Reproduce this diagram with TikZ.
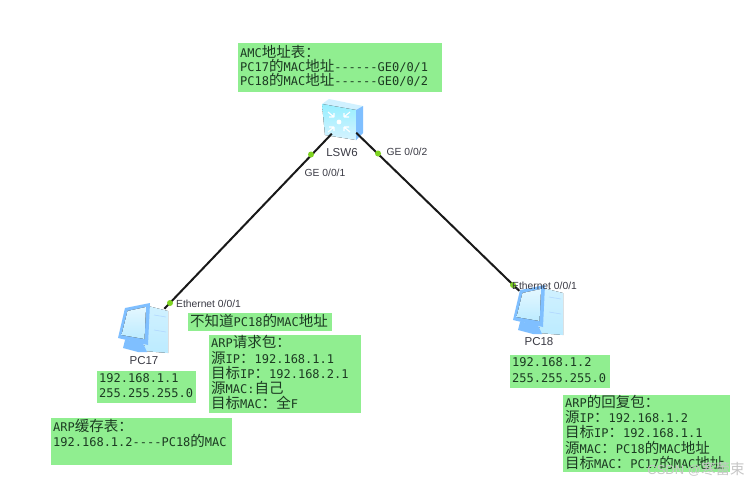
\documentclass[tikz,border=0pt]{standalone}
\usepackage{fontspec}
\setmainfont{Liberation Sans}
\setmonofont{DejaVu Sans Mono}
\newfontfamily\cjkfont{Noto Sans CJK SC}
\newcommand{\cn}[1]{{\cjkfont\fontsize{14.5}{15}\selectfont #1}}
\usepackage{tikz}
\usetikzlibrary{positioning}
\definecolor{notegreen}{HTML}{90EE90}
\definecolor{notetext}{HTML}{1C3A22}
\definecolor{portgreen}{HTML}{7ED321}
\definecolor{labelgray}{HTML}{3A3A44}
\definecolor{iconblue}{HTML}{7FBFFF}
\definecolor{iconpale}{HTML}{BCEBFF}

\begin{document}
\begin{tikzpicture}[
  x=1pt,y=-1pt,
  note/.style={fill=notegreen,anchor=north west,align=left,inner xsep=2pt,inner ysep=0pt,
    text=notetext,font=\ttfamily\fontsize{12}{15.2}\selectfont,
    execute at end node={\endgraf\vspace{3pt}}},
  link/.style={draw=black!90,line width=2pt},
  port/.style={circle,fill=portgreen,inner sep=0pt,minimum size=6pt},
  portlabel/.style={text=labelgray,inner sep=0pt,font=\fontsize{10.3}{12}\selectfont},
  devname/.style={portlabel,font=\fontsize{11.5}{13}\selectfont},
  device/.style={inner sep=0pt,minimum width=50pt,minimum height=36pt},
  pics/switchicon/.style={code={
    \fill[iconpale!70!white] (0,5) -- (7,0) -- (41,7) -- (34,11) -- cycle;
    \fill[top color=iconpale!80!cyan,bottom color=iconpale!60!white] (0,5) -- (34,11) -- (34,41) -- (3,36) -- cycle;
    \fill[iconblue] (34,11) -- (41,7) -- (41,34) -- (34,41) -- cycle;
    \fill[white] (17,23) circle (2.4);
    \foreach \dx/\dy in {-1/-1,1/-1,-1/1,1/1}
      \draw[white,line width=1.1pt] (17+5*\dx,23+5*\dy) -- (17+11*\dx,23+10*\dy)
        (17+5*\dx,23+5*\dy) -- (17+5*\dx,23+9*\dy) (17+5*\dx,23+5*\dy) -- (17+10*\dx,23+5*\dy);
  }},
  pics/pcicon/.style={code={
    \fill[top color=iconpale!70!white,bottom color=iconpale] (30,3) -- (50,8) -- (50,50) -- (26,48) -- cycle;
    \draw[iconblue!60,line width=.6pt] (36,12) -- (48,14) (36,27) -- (48,29);
    \fill[iconblue] (7,37) -- (24,38) -- (29,49) -- (20,49) -- (5,45) -- cycle;
    \fill[iconblue] (0,35) -- (7,5) -- (32,0) -- (30,42) -- cycle;
    \fill[top color=iconpale!40!white,bottom color=iconpale] (3.5,32) -- (9.5,8) -- (28,4) -- (26.5,36) -- cycle;
  }}
]
\useasboundingbox[fill=white] (0,0) rectangle (752,483);

\pic at (322,99) {switchicon};
\pic at (118,303) {pcicon};
\pic at (513,285) {pcicon};

\node[device,minimum width=24pt,minimum height=30pt] (LSW6) at (344,121) {};
\node[device,minimum height=38pt] (PC17) at (146,328) {};
\node[device] (PC18) at (538,309) {};
\draw[link] (LSW6) -- (PC17);
\draw[link] (LSW6) -- (PC18);

\node[port] (p1) at (311,154.5) {};
\node[port] (p2) at (378,153.5) {};
\node[port] (p3) at (170,303) {};
\node[port] (p4) at (513,285) {};

\node[devname] (LSW6name) at (342,153) {LSW6};
\node[devname] (PC17name) at (144,361) {PC17};
\node[devname] (PC18name) at (539,342) {PC18};
\node[portlabel] (l1) at (325,173) {GE 0/0/1};
\node[portlabel] (l2) at (407,152) {GE 0/0/2};
\node[portlabel] (l3) at (208.5,303.5) {Ethernet 0/0/1};
\node[portlabel] (l4) at (544.5,286) {Ethernet 0/0/1};

\node[note,text width=200pt,minimum height=49pt] (amc) at (238,43)
  {AMC\cn{地址表：}\\[-1pt]PC17\cn{的}MAC\cn{地址}------GE0/0/1\\[-1pt]PC18\cn{的}MAC\cn{地址}------GE0/0/2};
\node[note,text width=140pt,minimum height=18pt] (unknown) at (188,313)
  {\cn{不知道}PC18\cn{的}MAC\cn{地址}};
\node[note,text width=148pt,minimum height=78pt] (request) at (209,335)
  {ARP\cn{请求包：}\\\cn{源}IP\cn{：}192.168.1.1\\\cn{目标}IP\cn{：}192.168.2.1\\\cn{源}MAC:\cn{自己}\\\cn{目标}MAC\cn{：全}F};
\node[note,text width=95pt,minimum height=32pt] (ip17) at (97,371)
  {192.168.1.1\\255.255.255.0};
\node[note,text width=177pt,minimum height=47pt] (cache) at (51,418)
  {ARP\cn{缓存表：}\\192.168.1.2----PC18\cn{的}MAC\\~};
\node[note,text width=96pt,minimum height=33pt] (ip18) at (510,355)
  {192.168.1.2\\255.255.255.0};
\node[note,text width=163pt,minimum height=77pt] (reply) at (563,395)
  {ARP\cn{的回复包：}\\\cn{源}IP\cn{：}192.168.1.2\\\cn{目标}IP\cn{：}192.168.1.1\\\cn{源}MAC\cn{：}PC18\cn{的}MAC\cn{地址}\\\cn{目标}MAC\cn{：}PC17\cn{的}MAC\cn{地址}};

\node[inner sep=0pt,text=gray!45,font=\fontsize{13}{14}\selectfont] (mark) at (696,469)
  {CSDN @\cn{寒蕾束}};
\end{tikzpicture}
\end{document}
